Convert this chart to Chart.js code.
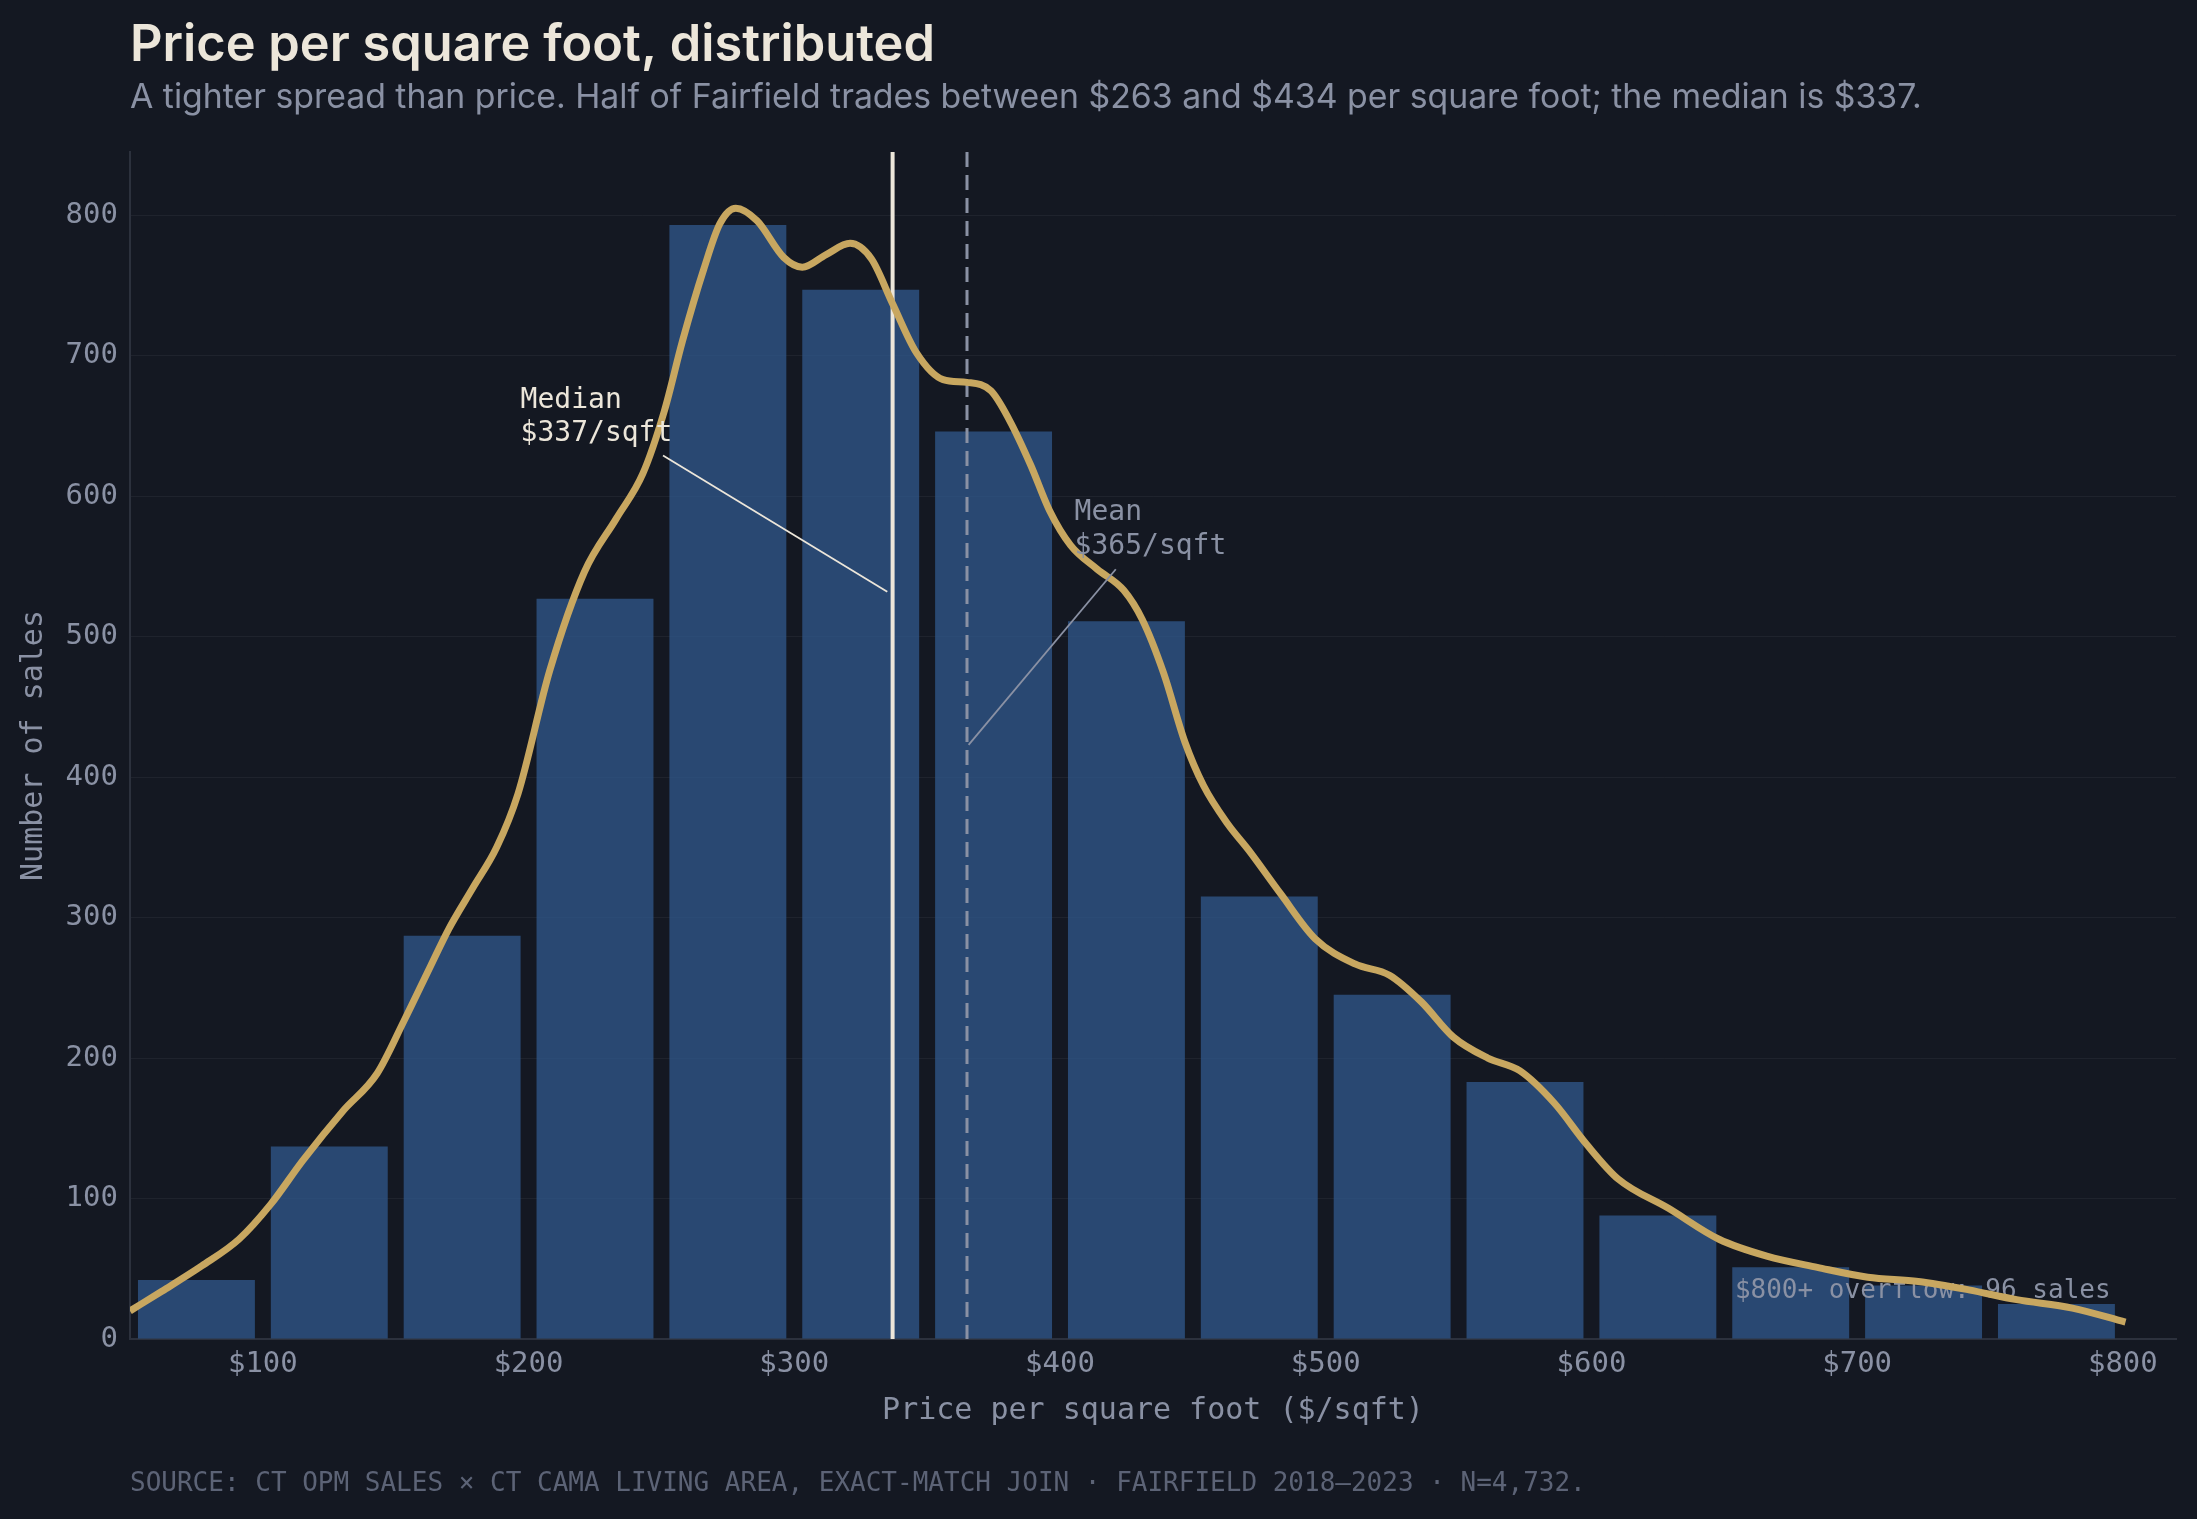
<!DOCTYPE html>
<html>
<head>
<meta charset="utf-8">
<title>Price per square foot, distributed</title>
<script src="https://cdn.jsdelivr.net/npm/chart.js@4.4.1/dist/chart.umd.min.js"></script>
<style>
  html, body { margin: 0; padding: 0; background: #141822; }
  #wrap { width: 2197px; height: 1519px; position: relative; }
</style>
</head>
<body>
<div id="wrap"><canvas id="ppsfChart"></canvas></div>
<script>
// histogram bins ($50 wide), counts
const binCenters = [75, 125, 175, 225, 275, 325, 375, 425, 475, 525, 575, 625, 675, 725, 775];
const binCounts = [42, 137, 287, 527, 793, 747, 646, 511, 315, 245, 183, 88, 51, 38, 25];

// smoothed density curve, scaled to counts
const kdeX = [50, 62, 77, 91, 103, 115, 130, 143, 153, 163, 170, 179, 188, 196, 208, 221, 233, 243, 251, 258,
  266, 272, 278, 286, 296, 303, 312, 321, 329, 337, 346, 356, 365, 374, 381, 389, 396, 404, 414, 424,
  431, 439, 447, 454, 463, 471, 483, 496, 511, 524, 536, 548, 561, 573, 586, 598, 610, 629, 648, 666,
  685, 704, 723, 742, 760, 781, 801];
const kdeY = [20, 34, 52, 71, 96, 127, 162, 189, 226, 265, 292, 321, 350, 388, 476, 546, 584, 616, 660, 711,
  762, 794, 805, 796, 770, 763, 772, 780, 769, 737, 702, 683, 681, 675, 654, 622, 590, 565, 548, 533,
  512, 474, 425, 394, 367, 348, 317, 285, 267, 259, 240, 215, 200, 191, 168, 139, 114, 93, 71, 59,
  51, 44, 41, 35, 28, 22, 12];

const xTicks = [100, 200, 300, 400, 500, 600, 700, 800];
const yTicks = [0, 100, 200, 300, 400, 500, 600, 700, 800];

const medianPpsf = 337;
const meanPpsf = 365;
const overflowSales = 96;

const titleText = 'Price per square foot, distributed';
const subtitleText = 'A tighter spread than price. Half of Fairfield trades between $263 and $434 per square foot; the median is $337.';
const footerText = 'SOURCE: CT OPM SALES \u00d7 CT CAMA LIVING AREA, EXACT-MATCH JOIN \u00b7 FAIRFIELD 2018\u20132023 \u00b7 N=4,732.';

const BG = '#141822';
const CREAM = '#ece6da';
const MUTED = '#8a91a4';
const MONO = '"DejaVu Sans Mono", monospace';

// note anchors, in data units
const medianNote = { x: 197, y: 663, fromX: 250.6, fromY: 629, toX: 335, toY: 532 };
const meanNote = { x: 405.5, y: 583, fromX: 421, fromY: 548, toX: 365.6, toY: 423 };
const overflowNote = { x: 654, y: 29 };

const decor = {
  id: 'decor',
  beforeDraw(chart) {
    const ctx = chart.ctx;
    ctx.save();
    ctx.fillStyle = BG;
    ctx.fillRect(0, 0, chart.width, chart.height);
    ctx.restore();
  },
  afterDatasetDraw(chart, args) {
    if (args.index !== 0) return;
    const { ctx, chartArea: a, scales: { x, y } } = chart;
    ctx.save();
    // overflow note sits under the curve
    ctx.font = '26px ' + MONO;
    ctx.fillStyle = MUTED;
    ctx.textBaseline = 'alphabetic';
    ctx.fillText('$800+ overflow: ' + overflowSales + ' sales', x.getPixelForValue(overflowNote.x), y.getPixelForValue(overflowNote.y));

    let px = x.getPixelForValue(medianPpsf);
    ctx.strokeStyle = CREAM;
    ctx.lineWidth = 4;
    ctx.beginPath(); ctx.moveTo(px, a.top); ctx.lineTo(px, a.bottom); ctx.stroke();

    px = x.getPixelForValue(meanPpsf);
    ctx.strokeStyle = MUTED;
    ctx.lineWidth = 3;
    ctx.setLineDash([15, 8]);
    ctx.beginPath(); ctx.moveTo(px, a.top); ctx.lineTo(px, a.bottom); ctx.stroke();
    ctx.restore();
  },
  afterDatasetsDraw(chart) {
    const { ctx, scales: { x, y } } = chart;
    ctx.save();
    ctx.lineWidth = 1.8;
    ctx.strokeStyle = CREAM;
    ctx.beginPath();
    ctx.moveTo(x.getPixelForValue(medianNote.fromX), y.getPixelForValue(medianNote.fromY));
    ctx.lineTo(x.getPixelForValue(medianNote.toX), y.getPixelForValue(medianNote.toY));
    ctx.stroke();
    ctx.strokeStyle = MUTED;
    ctx.beginPath();
    ctx.moveTo(x.getPixelForValue(meanNote.fromX), y.getPixelForValue(meanNote.fromY));
    ctx.lineTo(x.getPixelForValue(meanNote.toX), y.getPixelForValue(meanNote.toY));
    ctx.stroke();

    ctx.font = '28px ' + MONO;
    ctx.textBaseline = 'alphabetic';
    ctx.fillStyle = CREAM;
    let tx = x.getPixelForValue(medianNote.x), ty = y.getPixelForValue(medianNote.y);
    ctx.fillText('Median', tx, ty);
    ctx.fillText('$' + medianPpsf + '/sqft', tx, ty + 33.5);
    ctx.fillStyle = MUTED;
    tx = x.getPixelForValue(meanNote.x); ty = y.getPixelForValue(meanNote.y);
    ctx.fillText('Mean', tx, ty);
    ctx.fillText('$' + meanPpsf + '/sqft', tx, ty + 33.5);
    ctx.restore();
  },
  afterDraw(chart) {
    const ctx = chart.ctx;
    const left = chart.chartArea.left;
    ctx.save();
    ctx.textBaseline = 'alphabetic';
    ctx.fillStyle = CREAM;
    ctx.font = '600 50.5px Inter';
    ctx.fillText(titleText, left, 61);
    ctx.fillStyle = MUTED;
    ctx.font = '400 33.8px Inter';
    ctx.fillText(subtitleText, left, 108);
    ctx.fillStyle = '#5c6376';
    ctx.font = '26px ' + MONO;
    ctx.textBaseline = 'middle';
    ctx.fillText(footerText, left, 1484);
    ctx.restore();
  }
};

new Chart(document.getElementById('ppsfChart'), {
  data: {
    datasets: [{
      type: 'bar',
      data: binCenters.map((c, i) => ({ x: c, y: binCounts[i] })),
      backgroundColor: 'rgba(46, 85, 135, 0.8)',
      borderWidth: 0,
      barPercentage: 0.88,
      categoryPercentage: 1,
      order: 2
    }, {
      type: 'line',
      data: kdeX.map((v, i) => ({ x: v, y: kdeY[i] })),
      borderColor: '#c8a760',
      borderWidth: 7,
      pointRadius: 0,
      fill: false,
      cubicInterpolationMode: 'monotone',
      order: 1
    }]
  },
  options: {
    responsive: true,
    maintainAspectRatio: false,
    devicePixelRatio: 1,
    animation: false,
    layout: { padding: { top: 152, right: 21, bottom: 89, left: 0 } },
    plugins: { legend: { display: false }, tooltip: { enabled: false } },
    scales: {
      x: {
        type: 'linear',
        offset: false,
        min: 50,
        max: 820,
        afterBuildTicks: s => { s.ticks = xTicks.map(v => ({ value: v })); },
        afterFit: s => { s.height = 91; },
        grid: { display: false, drawTicks: false },
        border: { display: true, color: '#2c313d', width: 2 },
        ticks: { color: MUTED, font: { family: MONO, size: 29 }, padding: 8, maxRotation: 0, callback: v => '$' + v },
        title: { display: true, text: 'Price per square foot ($/sqft)', color: MUTED, font: { family: MONO, size: 30 }, padding: { top: 4, bottom: 1 } }
      },
      y: {
        min: 0,
        max: 845,
        afterBuildTicks: s => { s.ticks = yTicks.map(v => ({ value: v })); },
        afterFit: s => { s.width = 130; },
        grid: { color: 'rgba(255,255,255,0.05)', lineWidth: 1, drawTicks: false },
        border: { display: true, color: '#2c313d', width: 2 },
        ticks: { color: MUTED, font: { family: MONO, size: 29 }, padding: 12 },
        title: { display: true, text: 'Number of sales', color: MUTED, font: { family: MONO, size: 30 }, padding: { top: 16, bottom: 0 } }
      }
    }
  },
  plugins: [decor]
});
</script>
</body>
</html>
